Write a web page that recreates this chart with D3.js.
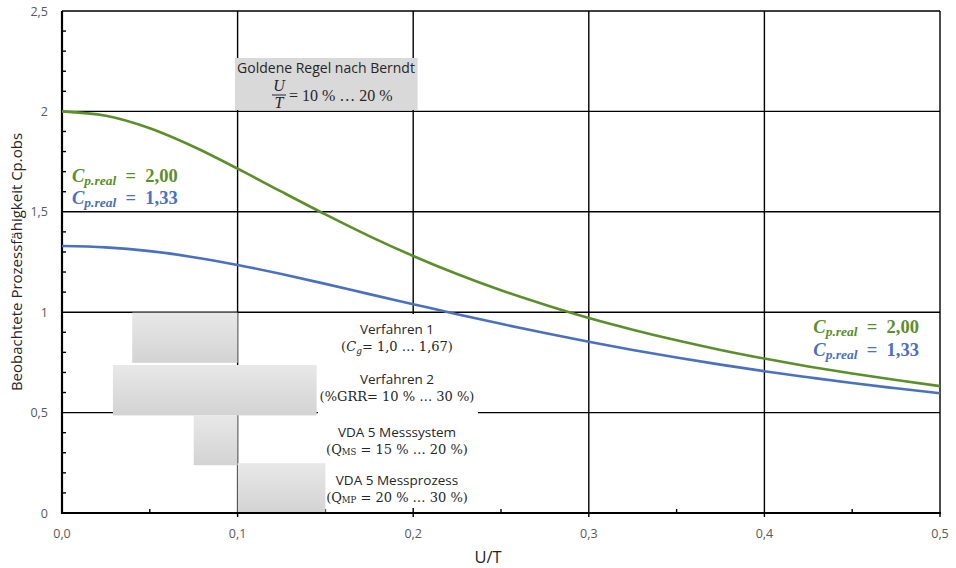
<!DOCTYPE html>
<html><head><meta charset="utf-8">
<script src="https://cdn.jsdelivr.net/npm/d3@7"></script>
<style>body{margin:0;background:#fff}svg{display:block}</style>
</head><body>
<svg id="c" width="956" height="568"></svg>
<script>
const utValues = [0,0.025,0.05,0.075,0.1,0.125,0.15,0.175,0.2,0.225,0.25,0.275,0.3,0.325,0.35,0.375,0.4,0.425,0.45,0.475,0.5];
const cpObs200 = [2.000,1.978,1.916,1.824,1.715,1.600,1.487,1.379,1.280,1.190,1.109,1.037,0.971,0.913,0.860,0.812,0.769,0.730,0.695,0.662,0.632];
const cpObs133 = [1.330,1.323,1.304,1.274,1.235,1.190,1.141,1.090,1.040,0.990,0.942,0.896,0.853,0.812,0.774,0.739,0.706,0.676,0.647,0.621,0.596];
const xTicks = [0,0.1,0.2,0.3,0.4,0.5];
const xTickLabels = ["0,0","0,1","0,2","0,3","0,4","0,5"];
const yTicks = [0,0.5,1,1.5,2,2.5];
const yTickLabels = ["0","0,5","1","1,5","2","2,5"];
// gray method ranges: [x0,x1,y0,y1]
const methodBoxes = [
  {name:"Verfahren 1", x0:0.04, x1:0.10, y0:0.748, y1:0.998},
  {name:"Verfahren 2", x0:0.029, x1:0.145, y0:0.486, y1:0.737},
  {name:"VDA 5 Messsystem", x0:0.075, x1:0.10, y0:0.238, y1:0.487},
  {name:"VDA 5 Messprozess", x0:0.10, x1:0.150, y0:0.0, y1:0.248}
];
const goldBox = {x0:0.0985, x1:0.2025, y0:2.007, y1:2.266};

const svg = d3.select("#c");
const m = {l:62, r:940, t:11, b:513};
const x = d3.scaleLinear().domain([0,0.5]).range([m.l,m.r]);
const y = d3.scaleLinear().domain([0,2.5]).range([m.b,m.t]);
const green = "#5b8f29", blue = "#4a70c0";
const sans = "'Open Sans', 'Noto Sans', sans-serif";
const serif = "'DejaVu Serif', 'Liberation Serif', serif";
const tserif = "'Liberation Serif', serif";

const defs = svg.append("defs");
const lg = defs.append("linearGradient").attr("id","gg").attr("x1",0).attr("y1",0).attr("x2",0).attr("y2",1);
lg.append("stop").attr("offset","0%").attr("stop-color","#e8e8e8");
lg.append("stop").attr("offset","100%").attr("stop-color","#d3d3d3");

// grid
const g = svg.append("g");
g.selectAll(".vg").data(xTicks.slice(1)).join("line")
  .attr("x1",d=>x(d)).attr("x2",d=>x(d)).attr("y1",m.t).attr("y2",m.b+4)
  .attr("stroke","#000").attr("stroke-width",1.4);
g.selectAll(".hg").data(yTicks.slice(1)).join("line")
  .attr("x1",m.l).attr("x2",m.r).attr("y1",d=>y(d)).attr("y2",d=>y(d))
  .attr("stroke","#000").attr("stroke-width",1.4);

// minor ticks
const xMinor = d3.range(0.05,0.5,0.1);
g.selectAll(".xm").data(xMinor).join("line")
  .attr("x1",d=>x(d)).attr("x2",d=>x(d)).attr("y1",m.b).attr("y2",m.b-4)
  .attr("stroke","#000").attr("stroke-width",1.4);
const yMinor = d3.range(0.1,2.5,0.1).filter(v=>Math.abs(v*2-Math.round(v*2))>0.01);
g.selectAll(".ym").data(yMinor).join("line")
  .attr("x1",m.l).attr("x2",m.l+4).attr("y1",d=>y(d)).attr("y2",d=>y(d))
  .attr("stroke","#000").attr("stroke-width",1.4);

// white text area behind method labels
svg.append("rect").attr("x",318).attr("y",314).attr("width",160).attr("height",194).attr("fill","#fff");

// gray boxes
svg.selectAll(".mb").data(methodBoxes).join("rect")
  .attr("x",d=>x(d.x0)).attr("width",d=>x(d.x1)-x(d.x0))
  .attr("y",d=>y(d.y1)).attr("height",d=>y(d.y0)-y(d.y1))
  .attr("fill","url(#gg)");
svg.append("rect").attr("x",x(goldBox.x0)).attr("width",x(goldBox.x1)-x(goldBox.x0))
  .attr("y",y(goldBox.y1)).attr("height",y(goldBox.y0)-y(goldBox.y1)).attr("fill","#d9d9d9");

// axes
svg.append("line").attr("x1",m.l).attr("x2",m.l).attr("y1",m.t).attr("y2",m.b+1).attr("stroke","#000").attr("stroke-width",2.2);
svg.append("line").attr("x1",m.l-1).attr("x2",m.r+1).attr("y1",m.b).attr("y2",m.b).attr("stroke","#000").attr("stroke-width",2.2);

// tick labels
svg.selectAll(".xl").data(xTicks).join("text")
  .attr("x",d=>x(d)).attr("y",538).attr("text-anchor","middle")
  .attr("font-family",sans).attr("font-size",12.5).attr("fill","#595959")
  .text((d,i)=>xTickLabels[i]);
svg.selectAll(".yl").data(yTicks).join("text")
  .attr("x",48).attr("y",d=>y(d)+4.5).attr("text-anchor","end")
  .attr("font-family",sans).attr("font-size",12.5).attr("fill","#595959")
  .text((d,i)=>yTickLabels[i]);

// axis titles
svg.append("text").attr("x",488).attr("y",563).attr("text-anchor","middle")
  .attr("font-family",sans).attr("font-size",16.5).attr("fill","#262626").text("U/T");
svg.append("text").attr("transform","translate(22,262) rotate(-90)").attr("text-anchor","middle")
  .attr("font-family",sans).attr("font-size",15).attr("fill","#262626").text("Beobachtete Prozessfähigkeit Cp.obs");

// curves
const line = d3.line().x((d,i)=>x(utValues[i])).y(d=>y(d)).curve(d3.curveMonotoneX);
svg.append("path").attr("d",line(cpObs200)).attr("fill","none").attr("stroke",green).attr("stroke-width",2.6);
svg.append("path").attr("d",line(cpObs133)).attr("fill","none").attr("stroke",blue).attr("stroke-width",2.6);

// method labels
const lab = svg.append("g").attr("font-family",sans).attr("font-size",13.5).attr("fill","#262626").attr("text-anchor","middle");
const cx = 397;
lab.append("text").attr("x",cx).attr("y",334).text("Verfahren 1");
let t = lab.append("text").attr("x",cx).attr("y",351).attr("font-family",serif).attr("font-size",13);
t.append("tspan").text("(");
t.append("tspan").attr("font-style","italic").text("C");
t.append("tspan").attr("font-style","italic").attr("font-size",9).attr("dy",3).text("g");
t.append("tspan").attr("dy",-3).text("=  1,0 … 1,67)");
lab.append("text").attr("x",cx).attr("y",384).text("Verfahren 2");
lab.append("text").attr("x",cx).attr("y",401).attr("font-family",serif).attr("font-size",13).text("(%GRR= 10 % … 30 %)");
lab.append("text").attr("x",cx).attr("y",437).text("VDA 5 Messsystem");
t = lab.append("text").attr("x",cx).attr("y",454).attr("font-family",serif).attr("font-size",13);
t.append("tspan").text("(Q");
t.append("tspan").attr("font-size",8.5).attr("dy",1).text("MS");
t.append("tspan").attr("dy",-1).text(" = 15 % … 20 %)");
lab.append("text").attr("x",cx).attr("y",485).text("VDA 5 Messprozess");
t = lab.append("text").attr("x",cx).attr("y",502).attr("font-family",serif).attr("font-size",13);
t.append("tspan").text("(Q");
t.append("tspan").attr("font-size",8.5).attr("dy",1).text("MP");
t.append("tspan").attr("dy",-1).text(" = 20 % … 30 %)");

// golden rule
lab.append("text").attr("x",326).attr("y",73).attr("font-size",14).text("Goldene Regel nach Berndt");
const gm = svg.append("g").attr("font-family",tserif).attr("font-size",16).attr("fill","#262626");
gm.append("text").attr("x",279).attr("y",91).attr("text-anchor","middle").attr("font-style","italic").text("U");
gm.append("line").attr("x1",272).attr("x2",286).attr("y1",95).attr("y2",95).attr("stroke","#262626").attr("stroke-width",1);
gm.append("text").attr("x",279).attr("y",108).attr("text-anchor","middle").attr("font-style","italic").text("T");
gm.append("text").attr("x",289).attr("y",101).text("= 10 % … 20 %");

// cp legends
function cpLabel(xp, yp, anchor, color, val){
  const tx = svg.append("text").attr("x",xp).attr("y",yp).attr("text-anchor",anchor)
    .attr("font-family",tserif).attr("font-size",18.5).attr("font-weight","bold").attr("fill",color);
  tx.append("tspan").attr("font-style","italic").text("C");
  tx.append("tspan").attr("font-style","italic").attr("font-size",13.5).attr("dy",3).text("p.real");
  tx.append("tspan").attr("dy",-3).text("\u2002=\u2002" + val);
}
cpLabel(72,182,"start",green,"2,00");
cpLabel(72,204,"start",blue,"1,33");
cpLabel(919,333,"end",green,"2,00");
cpLabel(919,356,"end",blue,"1,33");
</script>
</body></html>
